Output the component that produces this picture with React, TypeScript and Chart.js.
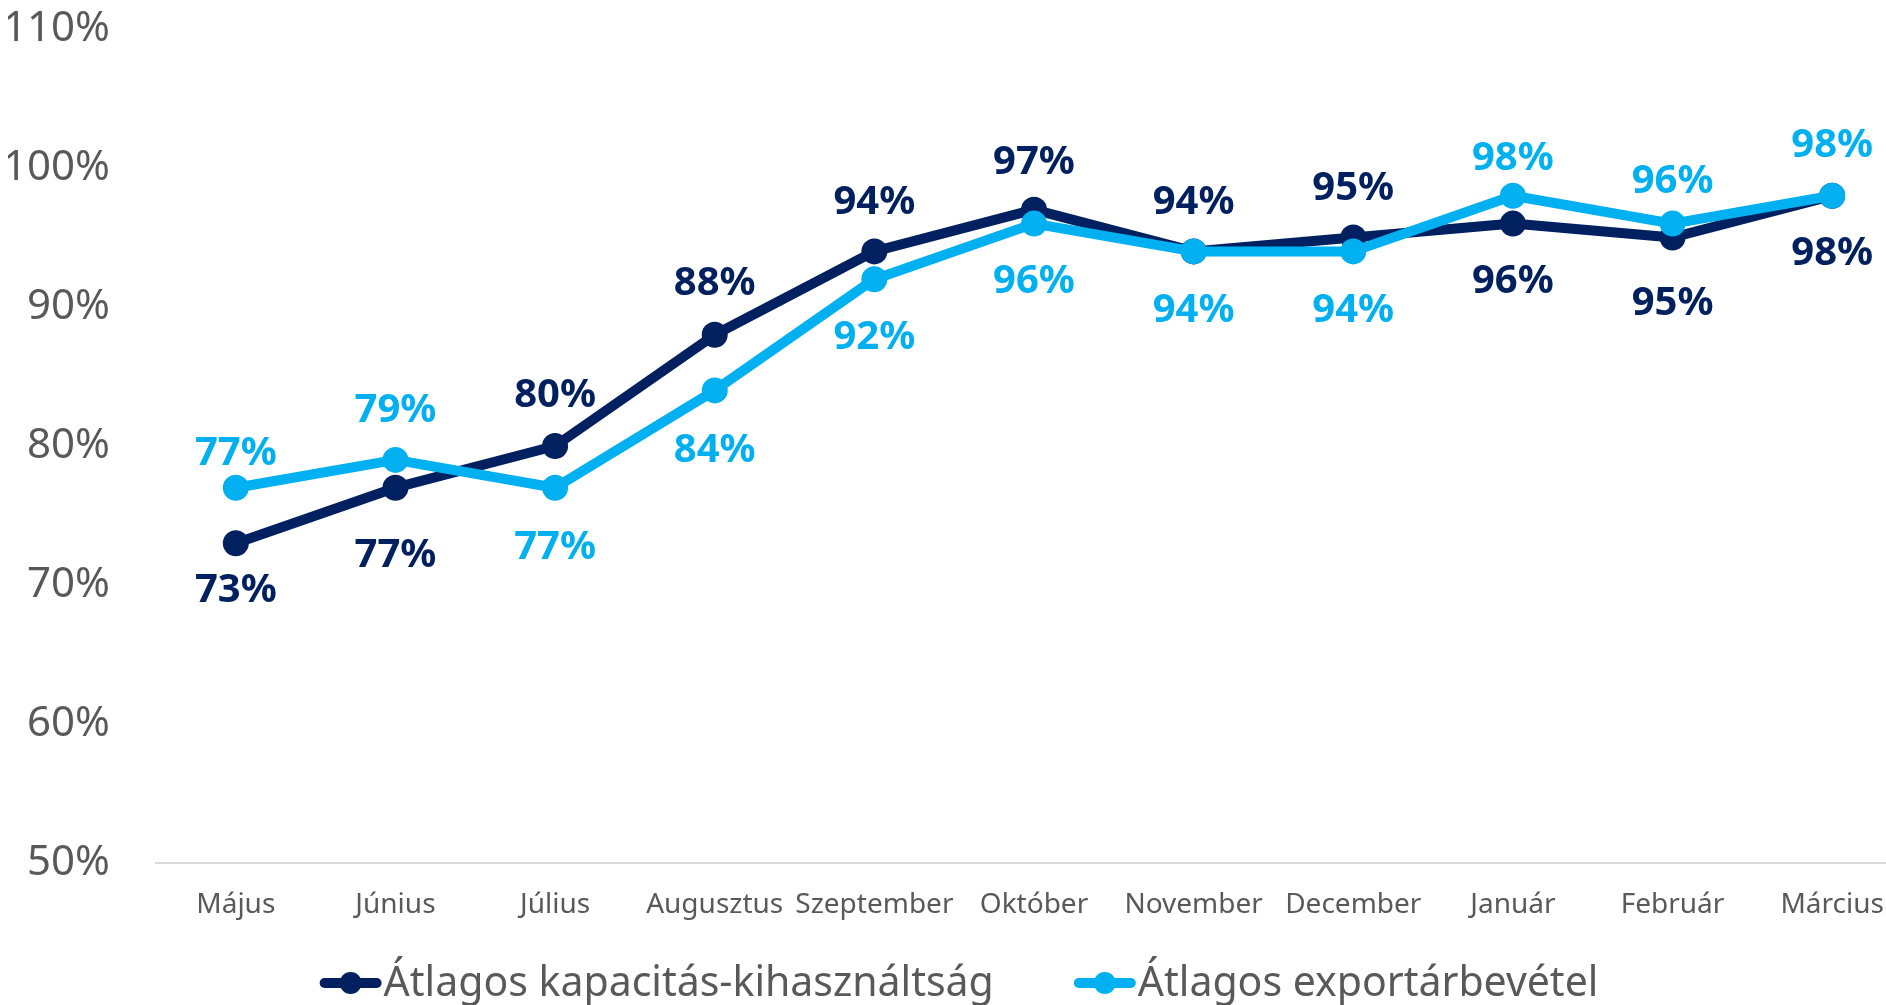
import React, { useEffect, useRef } from "react";
import { Chart, registerables } from "chart.js";

Chart.register(...registerables);

// ---- data ----
const categories = [
  "Május",
  "Június",
  "Július",
  "Augusztus",
  "Szeptember",
  "Október",
  "November",
  "December",
  "Január",
  "Február",
  "Március",
];
const seriesNames = ["Átlagos kapacitás-kihasználtság", "Átlagos exportárbevétel"];
const kapacitas = [73, 77, 80, 88, 94, 97, 94, 95, 96, 95, 98];
const exportArbevetel = [77, 79, 77, 84, 92, 96, 94, 94, 98, 96, 98];
const yTicks = [50, 60, 70, 80, 90, 100, 110];

// ---- label placement (pixel offset of each value label from its point) ----
const kapacitasLabelDy = [44, 65, -53, -54, -52, -50, -52, -52, 55, 63, 55];
const exportLabelDy = [-37, -52, 57, 57, 56, 55, 56, 56, -40, -45, -53];

// ---- style ----
const DARK = "#002060";
const LIGHT = "#00B0F0";
const TEXT = "#595959";
const FONT = "'Noto Sans'";
const CANVAS_W = 1925;
const CANVAS_H = 1005;

const labelOffsets = [kapacitasLabelDy, exportLabelDy];

const valueLabelPlugin = {
  id: "valueLabels",
  afterDatasetsDraw(chart: any) {
    const ctx = chart.ctx;
    const size = 40;
    ctx.save();
    ctx.font = `bold ${size}px ${FONT}`;
    ctx.textAlign = "center";
    ctx.textBaseline = "alphabetic";
    chart.data.datasets.forEach((ds: any, di: number) => {
      const meta = chart.getDatasetMeta(di);
      const offs = labelOffsets[di];
      meta.data.forEach((pt: any, i: number) => {
        ctx.fillStyle = ds.borderColor;
        ctx.fillText(`${ds.data[i]}%`, pt.x, pt.y + offs[i] + size * 0.357);
      });
    });
    ctx.restore();
  },
};

const legendPlugin = {
  id: "lineLegend",
  afterDraw(chart: any) {
    const ctx = chart.ctx;
    const size = 41;
    ctx.save();
    ctx.font = `${size}px ${FONT}`;
    const markerW = 62;
    const textGap = 2;
    const itemGap = 80;
    const items = chart.data.datasets.map((ds: any) => ({
      label: ds.label,
      color: ds.borderColor,
      w: ctx.measureText(ds.label).width,
    }));
    const total =
      items.reduce((s: number, it: any) => s + markerW + textGap + it.w, 0) +
      itemGap * (items.length - 1);
    let x = 959 - total / 2;
    const cy = chart.height - 22;
    items.forEach((it: any) => {
      ctx.strokeStyle = it.color;
      ctx.lineWidth = 10;
      ctx.lineCap = "round";
      ctx.beginPath();
      ctx.moveTo(x + 5, cy);
      ctx.lineTo(x + markerW - 5, cy);
      ctx.stroke();
      ctx.fillStyle = it.color;
      ctx.beginPath();
      ctx.arc(x + markerW / 2, cy, 11, 0, Math.PI * 2);
      ctx.fill();
      x += markerW + textGap;
      ctx.fillStyle = TEXT;
      ctx.textAlign = "left";
      ctx.textBaseline = "alphabetic";
      ctx.fillText(it.label, x, cy + 13);
      x += it.w + itemGap;
    });
    ctx.restore();
  },
};

export default function App() {
  const canvasRef = useRef<HTMLCanvasElement | null>(null);

  useEffect(() => {
    const canvas = canvasRef.current;
    if (!canvas) return;
    const chart = new Chart(canvas, {
      type: "line",
      data: {
        labels: categories,
        datasets: [
          {
            label: seriesNames[0],
            data: kapacitas,
            borderColor: DARK,
            backgroundColor: DARK,
            pointBackgroundColor: DARK,
            pointBorderWidth: 0,
            pointRadius: 13,
            pointHoverRadius: 13,
            borderWidth: 10,
            borderJoinStyle: "round",
            borderCapStyle: "round",
            tension: 0,
            order: 1,
          },
          {
            label: seriesNames[1],
            data: exportArbevetel,
            borderColor: LIGHT,
            backgroundColor: LIGHT,
            pointBackgroundColor: LIGHT,
            pointBorderWidth: 0,
            pointRadius: 13,
            pointHoverRadius: 13,
            borderWidth: 10,
            borderJoinStyle: "round",
            borderCapStyle: "round",
            tension: 0,
            order: 0,
          },
        ],
      },
      options: {
        responsive: false,
        maintainAspectRatio: false,
        animation: false,
        devicePixelRatio: 1,
        layout: { padding: { left: 8, top: 29, right: 0, bottom: 60 } },
        plugins: {
          legend: { display: false },
          tooltip: { enabled: false },
        },
        scales: {
          x: {
            type: "category",
            offset: true,
            grid: { display: false, drawTicks: false },
            border: { display: true, color: "#D9D9D9", width: 2 },
            ticks: {
              color: TEXT,
              font: { family: "Noto Sans", size: 28 },
              padding: 25,
              maxRotation: 0,
              autoSkip: false,
            },
            afterFit: (s: any) => {
              s.height = 82;
              s.paddingLeft = 0;
              s.paddingRight = 0;
              s.paddingTop = 0;
              s.paddingBottom = 0;
            },
          },
          y: {
            min: 50,
            max: 110,
            grid: { display: false, drawTicks: false },
            border: { display: false },
            afterBuildTicks: (s: any) => {
              s.ticks = yTicks.map((v) => ({ value: v }));
            },
            ticks: {
              color: TEXT,
              font: { family: "Noto Sans", size: 42 },
              padding: 46,
              callback: (v: any) => `${v}%`,
            },
            afterFit: (s: any) => {
              s.width = 148;
              s.paddingLeft = 0;
              s.paddingRight = 0;
              s.paddingTop = 0;
              s.paddingBottom = 0;
            },
          },
        },
      },
      plugins: [valueLabelPlugin, legendPlugin],
    } as any);
    return () => chart.destroy();
  }, []);

  return (
    <div
      style={{
        position: "fixed",
        left: 0,
        top: 0,
        width: 1886,
        height: 1005,
        overflow: "hidden",
        background: "#ffffff",
      }}
    >
      <canvas
        ref={canvasRef}
        width={CANVAS_W}
        height={CANVAS_H}
        style={{ width: CANVAS_W, height: CANVAS_H, display: "block" }}
      />
    </div>
  );
}
